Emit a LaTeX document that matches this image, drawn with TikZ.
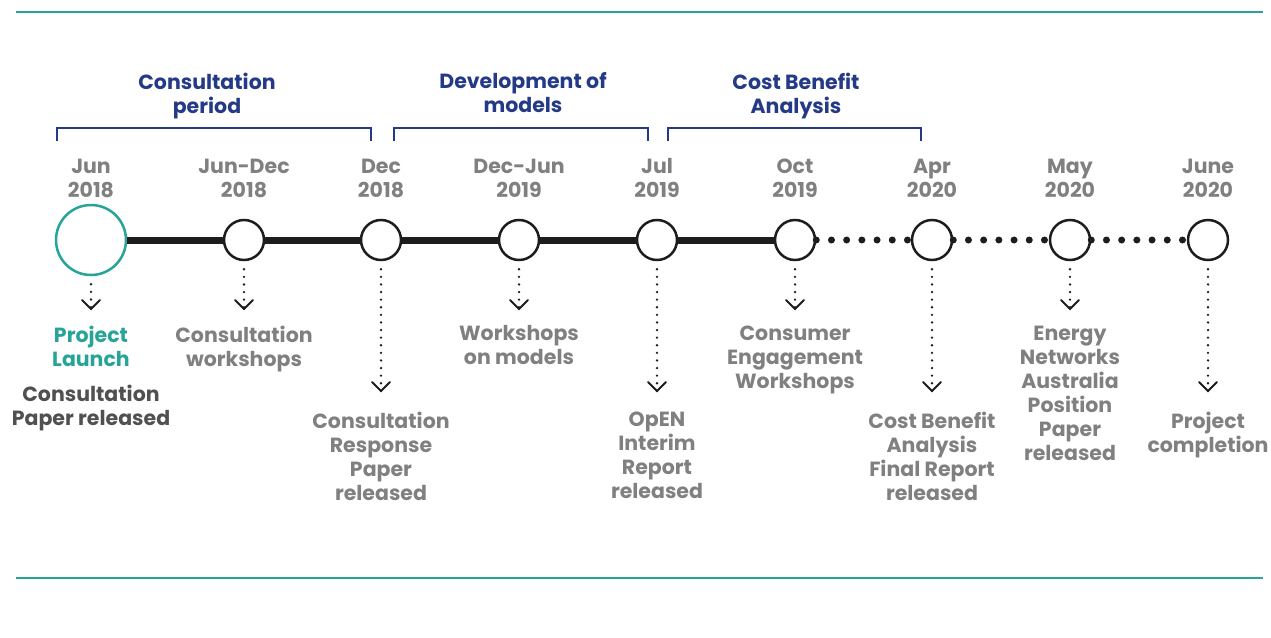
\documentclass[tikz,border=0pt]{standalone}
\usepackage{fontspec}
\setmainfont{Poppins}
\usetikzlibrary{arrows.meta}
\definecolor{myteal}{RGB}{38,164,152}
\definecolor{mynavy}{RGB}{37,58,135}
\definecolor{mygray}{RGB}{128,128,128}
\definecolor{mydark}{RGB}{80,80,80}
\definecolor{myblack}{RGB}{30,28,29}

\tikzset{
  txt/.style={anchor=north, align=center, inner sep=0pt,
    font=\bfseries\fontsize{20.5}{24}\selectfont, execute at begin node=\strut},
  date/.style={txt, text=mygray},
  event/.style={txt, text=mygray},
  period/.style={txt, text=mynavy},
  bracket/.style={draw=mynavy, line width=2pt},
  mile/.style={circle, draw=myblack, fill=white, line width=2.5pt, minimum size=40pt, inner sep=0pt},
  done/.style={draw=myblack, line width=7pt},
  todo/.style={draw=myblack, line width=7pt, line cap=round, dash pattern=on 0pt off 15.2pt},
  drop/.style={draw=myblack, line width=2.6pt, line cap=round, dash pattern=on 0pt off 7.6pt},
  tip/.style={draw=myblack, line width=1.8pt, line cap=round, line join=miter},
}

\begin{document}
\begin{tikzpicture}[x=1pt, y=-1pt]
\useasboundingbox (0,0) rectangle (1271,637);

% frame lines
\draw[myteal, line width=2pt] (16,12) -- (1263,12);
\draw[myteal, line width=2pt] (16,578) -- (1263,578);

% periods
\node[period] (p1) at (207,72.5) {Consultation\\period};
\node[period] (p2) at (523,72.5) {Development of\\models};
\node[period] (p3) at (796,72.5) {Cost Benefit\\Analysis};
\draw[bracket] (57,141) -- (57,128) -- (371,128) -- (371,141);
\draw[bracket] (394,141) -- (394,128) -- (648,128) -- (648,141);
\draw[bracket] (668,141) -- (668,128) -- (921,128) -- (921,141);

% dates
\node[date] at (91,158.5) {Jun\\2018};
\node[date] at (244,158.5) {Jun-Dec\\2018};
\node[date] at (381,158.5) {Dec\\2018};
\node[date] at (519,158.5) {Dec-Jun\\2019};
\node[date] at (657,158.5) {Jul\\2019};
\node[date] at (795,158.5) {Oct\\2019};
\node[date] at (932,158.5) {Apr\\2020};
\node[date] at (1070,158.5) {May\\2020};
\node[date] at (1208,158.5) {June\\2020};

% milestones
\node[mile, draw=myteal, minimum size=70pt] (m1) at (91,240) {};
\node[mile] (m2) at (244,240) {};
\node[mile] (m3) at (381,240) {};
\node[mile] (m4) at (519,240) {};
\node[mile] (m5) at (657,240) {};
\node[mile] (m6) at (795,240) {};
\node[mile] (m7) at (932,240) {};
\node[mile] (m8) at (1070,240) {};
\node[mile] (m9) at (1208,240) {};

% timeline
\foreach\a/\b in {m1/m2, m2/m3, m3/m4, m4/m5, m5/m6}
\draw[done] (\a) -- (\b);
\foreach\a/\b in {m6/m7, m7/m8, m8/m9}
\draw[todo] (\a) -- (\b);

% arrows
\coordinate (e1) at (91,309);
\coordinate (e2) at (244,309);
\coordinate (e3) at (381,391);
\coordinate (e4) at (519,309);
\coordinate (e5) at (657,391);
\coordinate (e6) at (795,309);
\coordinate (e7) at (932,391);
\coordinate (e8) at (1070,309);
\coordinate (e9) at (1208,391);
\foreach\i in {1, 2, ..., 9}{
\draw[drop] ([yshift=-8pt]m\i.south) -- ([yshift=-3pt]e\i);
\draw[tip] ([shift={(-9,-9)}]e\i) -- (e\i) -- ([shift={(9,-9)}]e\i);
}

% events
\node[event, text=myteal] (l1) at (91,325.5) {Project\\Launch};
\node[event, text=mydark] (l1b) at (91,385) {Consultation\\Paper released};
\node[event] (l2) at (244,325.5) {Consultation\\workshops};
\node[event] (l3) at (381,411.5) {Consultation\\Response\\Paper\\released};
\node[event] (l4) at (519,325.5) {Workshops\\on models};
\node[event] (l5) at (657,411.5) {OpEN\\Interim\\Report\\released};
\node[event] (l6) at (795,325.5) {Consumer\\Engagement\\Workshops};
\node[event] (l7) at (932,411.5) {Cost Benefit\\Analysis\\Final Report\\released};
\node[event] (l8) at (1070,325.5) {Energy\\Networks\\Australia\\Position\\Paper\\released};
\node[event] (l9) at (1208,411.5) {Project\\completion};
\end{tikzpicture}
\end{document}
